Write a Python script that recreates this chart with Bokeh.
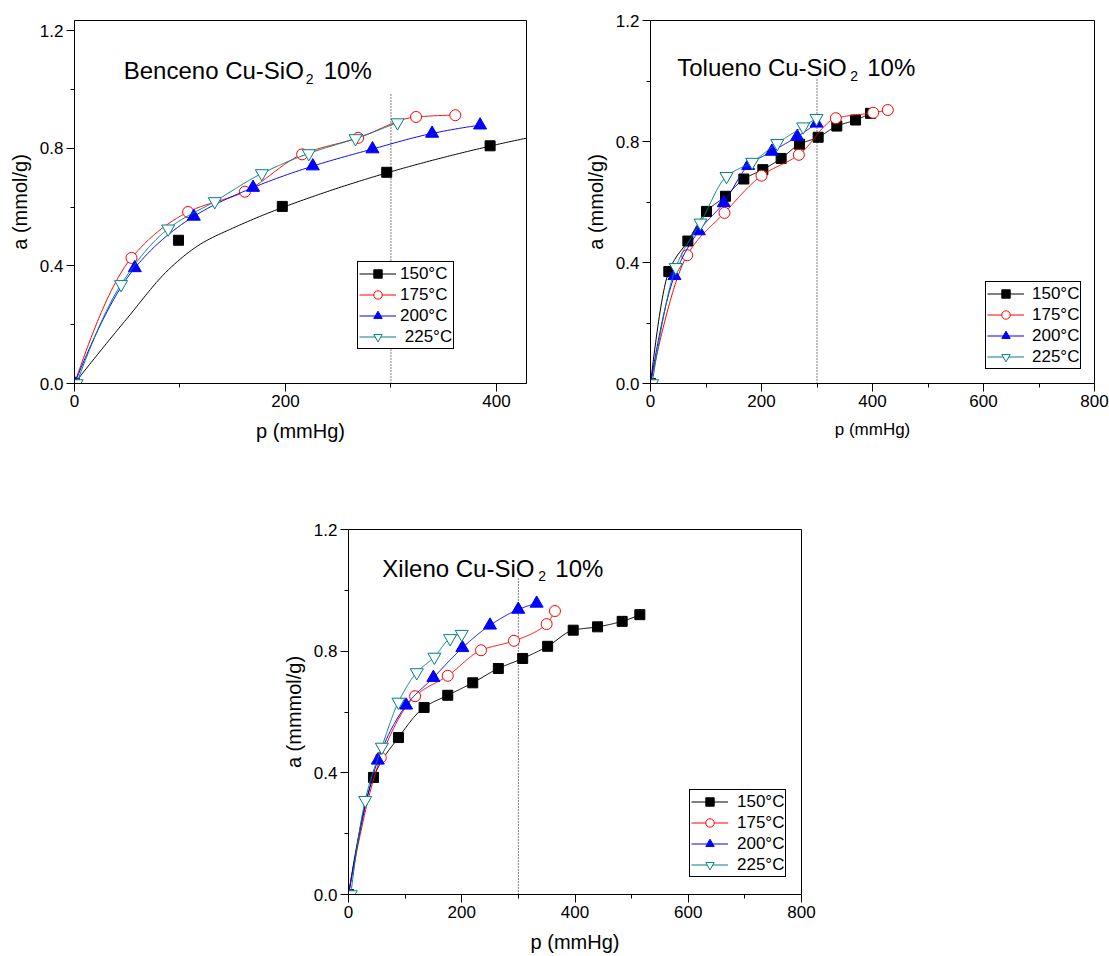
import numpy as np
from bokeh.plotting import figure
from bokeh.models import (Range1d, FixedTicker, Legend, LegendItem, Label,
                          Spacer, PrintfTickFormatter)
from bokeh.layouts import row, column
from bokeh.embed import file_html
from bokeh.resources import INLINE

# ---------------- data ----------------
temps = ["150°C", "175°C", "200°C", "225°C"]
ref_pressure = 300

# Benceno
ben_150_p = [0, 98.6, 197.0, 296.0, 394.0]
ben_150_a = [0, 0.487, 0.602, 0.718, 0.808]
# fitted curve of the 150°C series, as drawn in the picture
ben_150_fit_p = [0, 50, 90, 120, 150, 200, 300, 400, 430]
ben_150_fit_a = [0, 0.222, 0.390, 0.475, 0.528, 0.602, 0.720, 0.812, 0.835]
ben_175_p = [0, 54.0, 107.7, 161.5, 215.8, 268.9, 323.8, 361.0]
ben_175_a = [0, 0.427, 0.583, 0.652, 0.779, 0.835, 0.906, 0.912]
ben_200_p = [0, 57.2, 113.1, 169.3, 225.9, 282.5, 339.0, 384.5]
ben_200_a = [0, 0.393, 0.568, 0.666, 0.739, 0.797, 0.850, 0.878]
ben_225_p = [2, 44.2, 88.8, 133.0, 177.6, 222.1, 266.4, 306.2]
ben_225_a = [0, 0.337, 0.526, 0.619, 0.714, 0.782, 0.833, 0.887]

# Tolueno
tol_150_p = [0, 33.0, 67.3, 100.9, 135.1, 168.2, 202.4, 235.4, 268.5, 302.1, 335.7, 369.4, 396.4]
tol_150_a = [0, 0.370, 0.471, 0.569, 0.619, 0.676, 0.707, 0.744, 0.791, 0.814, 0.851, 0.871, 0.893]
tol_175_p = [0, 66.1, 133.3, 200.0, 267.3, 333.9, 401.2, 427.6]
tol_175_a = [0, 0.424, 0.564, 0.687, 0.756, 0.877, 0.895, 0.904]
tol_200_p = [0, 43.2, 87.1, 132.1, 176.0, 218.7, 264.3, 299.1]
tol_200_a = [0, 0.356, 0.504, 0.597, 0.720, 0.767, 0.816, 0.860]
tol_225_p = [3, 45.6, 90.1, 137.0, 183.2, 228.3, 275.1, 299.1]
tol_225_a = [0, 0.384, 0.531, 0.685, 0.732, 0.794, 0.849, 0.877]

# Xileno
xil_150_p = [0, 44.1, 88.2, 133.5, 175.3, 219.4, 264.6, 307.6, 351.7, 396.8, 439.8, 483.3, 514.5]
xil_150_a = [0, 0.385, 0.516, 0.615, 0.655, 0.696, 0.743, 0.776, 0.816, 0.869, 0.880, 0.898, 0.920]
xil_175_p = [0, 57.0, 117.6, 175.3, 234.0, 292.2, 349.9, 364.6]
xil_175_a = [0, 0.450, 0.652, 0.719, 0.803, 0.834, 0.889, 0.932]
xil_200_p = [0, 51.8, 101.8, 149.9, 201.1, 249.9, 299.8, 332.3]
xil_200_a = [0, 0.441, 0.622, 0.713, 0.811, 0.885, 0.937, 0.957]
xil_225_p = [4, 29.5, 58.9, 88.2, 120.6, 151.7, 179.4, 200.0]
xil_225_a = [0, 0.310, 0.485, 0.633, 0.730, 0.781, 0.842, 0.856]

# ---------------- styles ----------------
FONT = "Liberation Sans"
COLORS = ["black", "red", "blue", "#008080"]
MARKERS = ["square", "circle", "triangle", "inverted_triangle"]
FILLS = ["black", "white", "blue", "white"]
SIZES = [10, 11, 13, 13]


def pchip(x, y, n=300):
    x = np.asarray(x, float)
    y = np.asarray(y, float)
    h = np.diff(x)
    d = np.diff(y) / h
    m = np.zeros_like(x)
    for k in range(1, len(x) - 1):
        if d[k - 1] * d[k] > 0:
            w1 = 2 * h[k] + h[k - 1]
            w2 = h[k] + 2 * h[k - 1]
            m[k] = (w1 + w2) / (w1 / d[k - 1] + w2 / d[k])

    def end(h0, h1, d0, d1):
        mm = ((2 * h0 + h1) * d0 - h0 * d1) / (h0 + h1)
        if np.sign(mm) != np.sign(d0):
            mm = 0.0
        elif np.sign(d0) != np.sign(d1) and abs(mm) > abs(3 * d0):
            mm = 3 * d0
        return mm

    m[0] = end(h[0], h[1], d[0], d[1])
    m[-1] = end(h[-1], h[-2], d[-1], d[-2])
    xs = np.linspace(x[0], x[-1], n)
    idx = np.clip(np.searchsorted(x, xs) - 1, 0, len(h) - 1)
    t = (xs - x[idx]) / h[idx]
    h00 = 2 * t**3 - 3 * t**2 + 1
    h10 = t**3 - 2 * t**2 + t
    h01 = -2 * t**3 + 3 * t**2
    h11 = t**3 - t**2
    ys = h00 * y[idx] + h10 * h[idx] * m[idx] + h01 * y[idx + 1] + h11 * h[idx] * m[idx + 1]
    return xs, ys


def make_panel(W, H, bl, bt, br, bb, x_end, y_end, x_ticks, x_minor,
               ylabel, xlabel_size):
    p = figure(width=W, height=H, x_range=Range1d(0, x_end),
               y_range=Range1d(0, y_end), output_backend="svg",
               toolbar_location=None, min_border_left=bl, min_border_top=bt,
               min_border_right=br, min_border_bottom=bb)
    p.grid.visible = False
    p.outline_line_color = "black"
    p.outline_line_width = 1
    p.outline_line_alpha = 1
    p.background_fill_color = "white"
    p.border_fill_color = "white"
    p.xaxis.ticker = FixedTicker(ticks=x_ticks, minor_ticks=x_minor)
    p.yaxis.ticker = FixedTicker(ticks=[0, 0.4, 0.8, 1.2], minor_ticks=[0.2, 0.6, 1.0])
    p.xaxis.formatter = PrintfTickFormatter(format="%d")
    p.yaxis.formatter = PrintfTickFormatter(format="%.1f")
    for ax in (p.xaxis[0], p.yaxis[0]):
        ax.axis_line_color = "black"
        ax.axis_line_width = 1
        ax.major_tick_line_color = "black"
        ax.minor_tick_line_color = "black"
        ax.major_tick_in = 0
        ax.major_tick_out = 8
        ax.minor_tick_in = 0
        ax.minor_tick_out = 4
        ax.major_label_text_font = FONT
        ax.major_label_text_font_size = "17px"
        ax.major_label_text_color = "black"
        ax.major_label_standoff = 3
        ax.axis_label_text_font = FONT
        ax.axis_label_text_font_style = "normal"
        ax.axis_label_text_color = "black"
    p.xaxis.axis_label = "p (mmHg)"
    p.xaxis.axis_label_text_font_size = xlabel_size
    p.xaxis.axis_label_standoff = 10
    p.yaxis.axis_label = ylabel
    p.yaxis.axis_label_text_font_size = "20px"
    p.yaxis.axis_label_standoff = 6
    return p


def add_series(p, series, legend_loc, legend_labels, first_curve=None,
               standoff=4):
    items = []
    for i, (px, ay) in enumerate(series):
        if i == 0 and first_curve is not None:
            xs, ys = pchip(*first_curve)
        else:
            xs, ys = pchip(px, ay)
        lr = p.line(xs, ys, line_color=COLORS[i], line_width=1)
        sr = p.scatter(px, ay, marker=MARKERS[i], size=SIZES[i],
                       fill_color=FILLS[i], line_color=COLORS[i], line_width=1)
        items.append(LegendItem(label=legend_labels[i], renderers=[lr, sr]))
    leg = Legend(items=items, location=legend_loc, padding=1, spacing=0,
                 glyph_width=37, glyph_height=21, label_standoff=standoff,
                 label_text_font=FONT, label_text_font_size="17px",
                 label_text_color="black", label_height=20,
                 border_line_color="black", border_line_width=1,
                 border_line_alpha=1, margin=0, background_fill_alpha=1)
    p.add_layout(leg)


def add_title(p, x, y, main, sub_off, rest_off, sub_drop):
    p.add_layout(Label(x=x, y=y, text=main, text_font=FONT,
                       text_font_size="24px", text_color="black",
                       text_baseline="alphabetic"))
    p.add_layout(Label(x=x, y=y, x_offset=sub_off, y_offset=-sub_drop, text="2",
                       text_font=FONT, text_font_size="14px", text_color="black",
                       text_baseline="alphabetic"))
    p.add_layout(Label(x=x, y=y, x_offset=rest_off, text="10%", text_font=FONT,
                       text_font_size="24px", text_color="black",
                       text_baseline="alphabetic"))


def add_ref_line(p, top):
    p.segment(x0=[ref_pressure], y0=[0], x1=[ref_pressure], y1=[top],
              line_color="black", line_width=1, line_dash="1 2")


# ---------------- panel 1: Benceno ----------------
p1 = make_panel(560, 470, 74, 18, 34, 87, 428.5, 1.234, [0, 200, 400], [100, 300],
                "a (mmol/g)", "20px")
add_ref_line(p1, 0.985)
add_series(p1, [(ben_150_p, ben_150_a), (ben_175_p, ben_175_a),
                (ben_200_p, ben_200_a), (ben_225_p, ben_225_a)],
           (283, 34), temps[:3] + [" " + temps[3]],
           first_curve=(ben_150_fit_p, ben_150_fit_a), standoff=4)
add_title(p1, 46.7, 1.065, "Benceno Cu-SiO", 182, 200, 9)

# ---------------- panel 2: Tolueno ----------------
p2 = make_panel(549, 470, 90, 20, 15, 85, 800, 1.2,
                [0, 200, 400, 600, 800], [100, 300, 500, 700],
                "a (mmol/g)", "17px")
add_ref_line(p2, 1.012)
add_series(p2, [(tol_150_p, tol_150_a), (tol_175_p, tol_175_a),
                (tol_200_p, tol_200_a), (tol_225_p, tol_225_a)],
           (335, 14), temps, standoff=8)
add_title(p2, 48.1, 1.046, "Tolueno Cu-SiO", 173, 190, 9)

# ---------------- panel 3: Xileno ----------------
p3 = make_panel(641, 486, 88, 59, 100, 62, 800, 1.2,
                [0, 200, 400, 600, 800], [100, 300, 500, 700],
                "a (mmmol/g)", "20px")
add_ref_line(p3, 1.042)
add_series(p3, [(xil_150_p, xil_150_a), (xil_175_p, xil_175_a),
                (xil_200_p, xil_200_a), (xil_225_p, xil_225_a)],
           (341, 17), temps, standoff=9)
add_title(p3, 59.8, 1.072, "Xileno Cu-SiO", 156, 173, 8)

layout = column(row(p1, p2), row(Spacer(width=260, height=486), p3))

open("out.html", "w").write(file_html(layout, INLINE))
